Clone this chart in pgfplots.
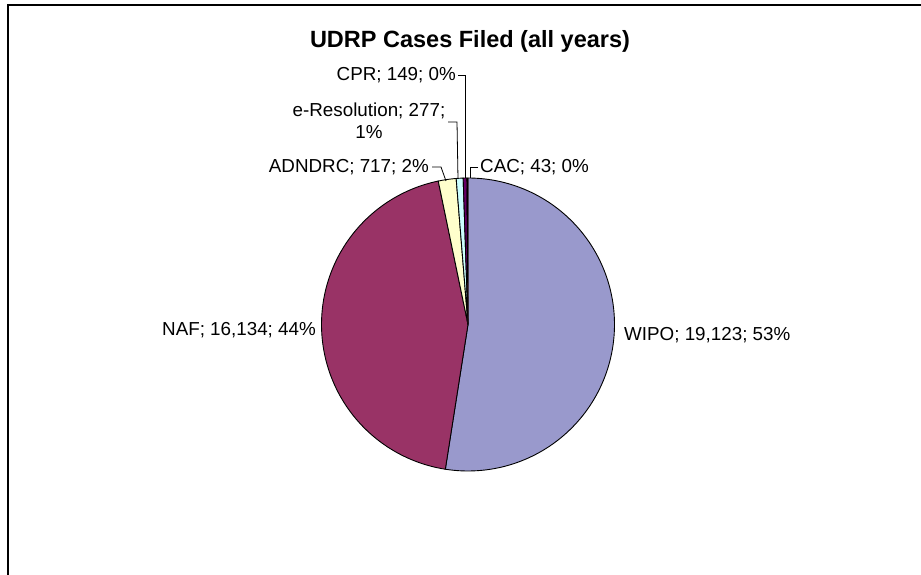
\documentclass[border=0pt]{standalone}
\usepackage{pgfplots}
\pgfplotsset{compat=1.18}
\usepackage{fontspec}
\setmainfont{Liberation Sans}

\definecolor{cWIPO}{HTML}{9999CC}
\definecolor{cNAF}{HTML}{993366}
\definecolor{cADN}{HTML}{FFFFCC}
\definecolor{cERES}{HTML}{CCFFFF}
\definecolor{cCPR}{HTML}{660066}
\definecolor{cCAC}{HTML}{FF8080}

% cases filed per provider
\def\vWIPO{19123}
\def\vNAF{16134}
\def\vADN{717}
\def\vERES{277}
\def\vCPR{149}
\def\vCAC{43}
\edef\tot{\fpeval{\vWIPO+\vNAF+\vADN+\vERES+\vCPR+\vCAC}}
% slice boundaries, clockwise from 12 o'clock
\def\aZ{90}
\edef\aA{\fpeval{\aZ-360*\vWIPO/\tot}}
\edef\aB{\fpeval{\aA-360*\vNAF/\tot}}
\edef\aC{\fpeval{\aB-360*\vADN/\tot}}
\edef\aD{\fpeval{\aC-360*\vERES/\tot}}
\edef\aE{\fpeval{\aD-360*\vCPR/\tot}}
\edef\aF{\fpeval{\aE-360*\vCAC/\tot}}

\def\cx{468}
\def\cy{250.5}
\def\rr{146.5}

\begin{document}
\begin{tikzpicture}
  \begin{axis}[
      width=921bp, height=575bp, scale only axis,
      xmin=0, xmax=921, ymin=0, ymax=575,
      hide axis, clip=false,
      every axis plot/.append style={draw=black, line width=0.9pt, variable=\t},
    ]
    \addplot[fill=cWIPO, domain=\aA:\aZ, samples=120]
      ({\cx+\rr*cos(\t)},{\cy+\rr*sin(\t)}) -- (axis cs:\cx,\cy) -- cycle;
    \addplot[fill=cNAF, domain=\aB:\aA, samples=120]
      ({\cx+\rr*cos(\t)},{\cy+\rr*sin(\t)}) -- (axis cs:\cx,\cy) -- cycle;
    \addplot[fill=cADN, domain=\aC:\aB, samples=8]
      ({\cx+\rr*cos(\t)},{\cy+\rr*sin(\t)}) -- (axis cs:\cx,\cy) -- cycle;
    \addplot[fill=cERES, domain=\aD:\aC, samples=4]
      ({\cx+\rr*cos(\t)},{\cy+\rr*sin(\t)}) -- (axis cs:\cx,\cy) -- cycle;
    \addplot[fill=cCPR, domain=\aE:\aD, samples=3]
      ({\cx+\rr*cos(\t)},{\cy+\rr*sin(\t)}) -- (axis cs:\cx,\cy) -- cycle;
    \addplot[fill=cCAC, domain=\aF:\aE, samples=2]
      ({\cx+\rr*cos(\t)},{\cy+\rr*sin(\t)}) -- (axis cs:\cx,\cy) -- cycle;

    % frame (cut at right and bottom in the reference)
    \draw[line width=1.8pt] (axis cs:8,0) -- (axis cs:8,570) -- (axis cs:921,570);

    \node[font=\fontsize{23.5bp}{27bp}\selectfont\bfseries] at (axis cs:470,534)
      {UDRP Cases Filed (all years)};

    \begin{scope}[every node/.style={font=\fontsize{18.8bp}{22.5bp}\selectfont, inner sep=0pt}]
      \node[anchor=east] at (axis cs:456,500) {CPR; 149; 0\%};
      \node[align=center] at (axis cs:369,454) {e-Resolution; 277;\\1\%};
      \node[anchor=east] at (axis cs:429,408) {ADNDRC; 717; 2\%};
      \node[anchor=west] at (axis cs:480,408) {CAC; 43; 0\%};
      \node[anchor=east] at (axis cs:316,245) {NAF; 16,134; 44\%};
      \node[anchor=west] at (axis cs:624,240) {WIPO; 19,123; 53\%};
    \end{scope}

    % leader lines
    \draw[line width=0.8pt] (axis cs:458,500) -- (axis cs:465,500) -- (axis cs:465,397);
    \draw[line width=0.8pt] (axis cs:448,453) -- (axis cs:457,453) -- (axis cs:458,396);
    \draw[line width=0.8pt] (axis cs:432,408) -- (axis cs:441,408) -- (axis cs:446,394);
    \draw[line width=0.8pt] (axis cs:478,408) -- (axis cs:470,408) -- (axis cs:470,397);
  \end{axis}
  \pgfresetboundingbox
  \useasboundingbox (current axis.south west) rectangle (current axis.north east);
\end{tikzpicture}
\end{document}
